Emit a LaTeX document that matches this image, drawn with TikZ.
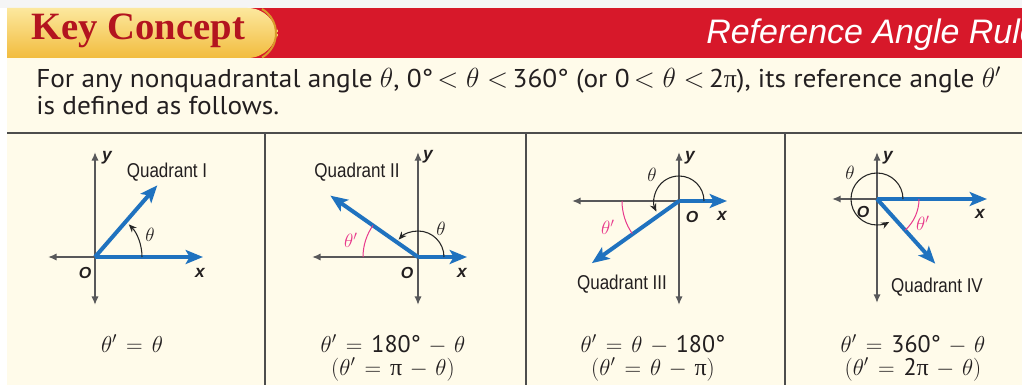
\documentclass[tikz,border=0pt]{standalone}
\usepackage{fontspec}
\setmainfont{PT Sans}
\newfontfamily\bodyfont{PT Sans}[FakeStretch=1.06]
\newfontfamily\keyfont{Liberation Serif}
\newfontfamily\quadfont{Liberation Sans}[FakeStretch=0.85]
\newfontfamily\axfont{Liberation Sans}
\newfontfamily\rulefont{Liberation Sans}
\newfontfamily\grk{Liberation Serif}
\usetikzlibrary{arrows.meta}
\definecolor{hdrred}{HTML}{D7182A}
\definecolor{keyred}{HTML}{B3141F}
\definecolor{tabtop}{HTML}{FCE89E}
\definecolor{tabbot}{HTML}{F2BC3E}
\definecolor{tabrim}{HTML}{D99A2B}
\definecolor{cream}{HTML}{FFFBEA}
\definecolor{axgray}{HTML}{58585A}
\definecolor{rayblue}{HTML}{1F72BF}
\definecolor{pinkarc}{HTML}{E8398C}
\definecolor{rulegray}{HTML}{4D4D4D}
\definecolor{txt}{HTML}{231F20}
\newcommand{\opgap}{\mkern2mu}
\tikzset{
  axisline/.style={draw=axgray, line width=1.5pt},
  axtip/.style={-{Latex[length=6.5pt,width=5.5pt]}},
  axboth/.style={{Latex[length=6.5pt,width=5.5pt]}-{Latex[length=6.5pt,width=5.5pt]}},
  ray/.style={draw=rayblue, line width=3pt, -{Stealth[length=13pt,width=10.5pt,inset=3pt]}},
  tharc/.style={draw=black!85, line width=0.8pt, -{Stealth[length=6pt,width=5pt]}},
  pkarc/.style={draw=pinkarc, line width=0.75pt},
  axlbl/.style={font=\axfont\bfseries\itshape\fontsize{13}{13}\selectfont, text=txt, inner sep=0pt},
  olbl/.style={font=\axfont\bfseries\itshape\fontsize{12}{12}\selectfont, text=txt, inner sep=0pt},
  quad/.style={font=\quadfont\fontsize{15}{15}\selectfont, text=txt, inner sep=0pt},
  thlbl/.style={font=\fontsize{14}{14}\selectfont, text=txt, inner sep=0pt},
  pklbl/.style={font=\fontsize{14}{14}\selectfont, text=pinkarc, inner sep=0pt},
  eqn/.style={font=\fontsize{18}{18}\selectfont, text=txt, inner sep=0pt, anchor=base, text height=10pt, text depth=3pt},
  body/.style={font=\bodyfont\fontsize{19.3}{19.3}\selectfont, text=txt, inner sep=0pt, anchor=base west},
  divider/.style={draw=rulegray, line width=1.1pt}
}
\begin{document}
\begin{tikzpicture}[x=0.75pt,y=0.75pt]
\useasboundingbox (0,0) rectangle (1022,-385);
% backgrounds
\fill[gray!8] (0,0) rectangle (1022,-8);
\fill[cream] (7,-58) rectangle (1022,-385);
\fill[hdrred] (7,-8) rectangle (1022,-58);
\shade[top color=tabtop, bottom color=tabbot] (7,-58) -- (7,-8) [rounded corners=22] -- (277,-8) -- (277,-58) [sharp corners] -- cycle;
\draw[tabrim, line width=1.5pt] (262,-9) arc[start angle=60, end angle=-60, radius=28];
\node[anchor=base west, inner sep=0pt, text=keyred, font=\keyfont\bfseries\fontsize{29}{29}\selectfont] (key) at (31,-40) {Key Concept};
\begin{scope}
\clip (7,-8) rectangle (1022,-58);
\node[anchor=base west, inner sep=0pt, text=white, font=\rulefont\itshape\fontsize{25.5}{25.5}\selectfont] (rule) at (706,-44) {Reference Angle Rule};
\end{scope}
% body text
\node[body] (l1) at (36,-88) {For any nonquadrantal angle $\theta$, 0°\,$<\theta<$\,360° (or 0\,$<\theta<$\,2{\grk π}), its reference angle $\theta'$};
\node[body] (l2) at (36,-114) {is defined as follows.};
% dividers
\coordinate (hl) at (7,-133); \coordinate (hr) at (1022,-133);
\draw[divider] (hl) -- (hr);
\foreach \vx in {265,526,785} {
  \coordinate (vt\vx) at (\vx,-133); \coordinate (vb\vx) at (\vx,-385);
  \draw[divider] (vt\vx) -- (vb\vx);
}
% ---------- Panel 1 ----------
\coordinate (O1) at (95,-257);
\coordinate (Y1t) at (95,-152); \coordinate (Y1b) at (95,-305);
\coordinate (X1l) at (48,-257); \coordinate (X1r) at (203,-257);
\coordinate (R1) at ([shift={(49:95)}]O1);
\draw[axisline, axboth] (Y1b) -- (Y1t);
\draw[axisline, axtip] (O1) -- (X1l);
\draw[ray] (O1) -- (X1r);
\draw[ray] (O1) -- (R1);
\draw[tharc] ([shift={(0:47)}]O1) arc[start angle=0, end angle=44, radius=47];
\node[axlbl] (y1) at (107,-158) {y};
\node[axlbl] (x1) at (200,-273) {x};
\node[olbl] (o1) at (85,-273) {O};
\node[quad] (q1) at (167,-172) {Quadrant I};
\node[thlbl] (t1) at (150,-235) {$\theta$};
\node[eqn] (e1) at (132,-352) {$\theta' \opgap=\opgap \theta$};
% ---------- Panel 2 ----------
\coordinate (O2) at (418,-257);
\coordinate (Y2t) at (418,-152); \coordinate (Y2b) at (418,-305);
\coordinate (X2l) at (312,-257); \coordinate (X2r) at (467,-257);
\coordinate (R2) at ([shift={(145:107)}]O2);
\draw[axisline, axboth] (Y2b) -- (Y2t);
\draw[axisline, axtip] (O2) -- (X2l);
\draw[ray] (O2) -- (X2r);
\draw[ray] (O2) -- (R2);
\draw[tharc] ([shift={(0:26)}]O2) arc[start angle=0, end angle=138, radius=26];
\draw[pkarc] ([shift={(145:55)}]O2) arc[start angle=145, end angle=180, radius=55];
\node[axlbl] (y2) at (428,-157) {y};
\node[axlbl] (x2) at (462,-273) {x};
\node[olbl] (o2) at (407,-273) {O};
\node[quad] (q2) at (357,-172) {Quadrant II};
\node[thlbl] (t2) at (441,-229) {$\theta$};
\node[pklbl] (p2) at (351,-240) {$\theta'$};
\node[eqn] (e2a) at (393,-352) {$\theta' \opgap=\opgap \mbox{180°} \opgap-\opgap \theta$};
\node[eqn] (e2b) at (393,-375) {$(\theta' \opgap=\opgap \mbox{\grk π} \opgap-\opgap \theta)$};
% ---------- Panel 3 ----------
\coordinate (O3) at (679,-201);
\coordinate (Y3t) at (679,-152); \coordinate (Y3b) at (679,-305);
\coordinate (X3l) at (572,-201); \coordinate (X3r) at (727,-201);
\coordinate (R3) at ([shift={(215.5:107)}]O3);
\draw[axisline, axboth] (Y3b) -- (Y3t);
\draw[axisline, axtip] (O3) -- (X3l);
\draw[ray] (O3) -- (X3r);
\draw[ray] (O3) -- (R3);
\draw[tharc] ([shift={(0:25)}]O3) arc[start angle=0, end angle=205, radius=25];
\draw[pkarc] ([shift={(180:57)}]O3) arc[start angle=180, end angle=215, radius=57];
\node[axlbl] (y3) at (690,-158) {y};
\node[axlbl] (x3) at (722,-216) {x};
\node[olbl] (o3) at (692,-217) {O};
\node[quad] (q3) at (622,-284) {Quadrant III};
\node[thlbl] (t3) at (652,-175) {$\theta$};
\node[pklbl] (p3) at (608,-227) {$\theta'$};
\node[eqn] (e3a) at (653,-352) {$\theta' \opgap=\opgap \theta \opgap-\opgap \mbox{180°}$};
\node[eqn] (e3b) at (653,-375) {$(\theta' \opgap=\opgap \theta \opgap-\opgap \mbox{\grk π})$};
% ---------- Panel 4 ----------
\coordinate (O4) at (877,-199);
\coordinate (Y4t) at (877,-152); \coordinate (Y4b) at (877,-303);
\coordinate (X4l) at (832,-199); \coordinate (X4r) at (987,-199);
\coordinate (R4) at ([shift={(-48:87)}]O4);
\draw[axisline, axboth] (Y4b) -- (Y4t);
\draw[axisline, axtip] (O4) -- (X4l);
\draw[ray] (O4) -- (X4r);
\draw[ray] (O4) -- (R4);
\draw[tharc] ([shift={(0:26)}]O4) arc[start angle=0, end angle=298, radius=26];
\draw[pkarc] ([shift={(-48:42)}]O4) arc[start angle=-48, end angle=0, radius=42];
\node[axlbl] (y4) at (888,-158) {y};
\node[axlbl] (x4) at (980,-214) {x};
\node[olbl] (o4) at (863,-212) {O};
\node[quad] (q4) at (937,-287) {Quadrant IV};
\node[thlbl] (t4) at (850,-173) {$\theta$};
\node[pklbl] (p4) at (923,-223) {$\theta'$};
\node[eqn] (e4a) at (913,-352) {$\theta' \opgap=\opgap \mbox{360°} \opgap-\opgap \theta$};
\node[eqn] (e4b) at (913,-375) {$(\theta' \opgap=\opgap \mbox{2\grk π} \opgap-\opgap \theta)$};
\end{tikzpicture}
\end{document}
